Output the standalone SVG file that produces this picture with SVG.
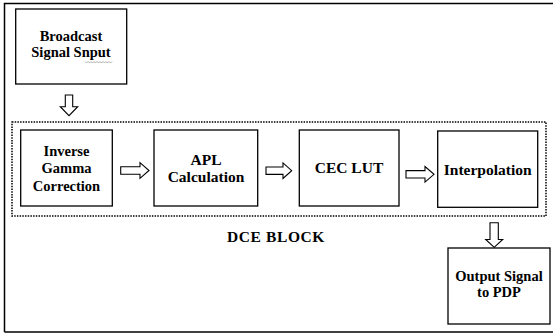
<svg xmlns="http://www.w3.org/2000/svg" width="553" height="334" viewBox="0 0 553 334">
<style>
.box{fill:#fff;stroke:#000;stroke-width:1.3}
.t{font-family:"Liberation Serif","Times New Roman",serif;font-weight:bold;font-size:15.5px;text-anchor:middle;fill:#000}
.s{font-size:14.5px}
.arr{fill:#fff;stroke:#000;stroke-width:1.1;stroke-linejoin:miter}
</style>
<rect x="0" y="0" width="553" height="334" fill="#fff"/>
<path d="M4.5 332 V3.5 H556" fill="none" stroke="#000" stroke-width="1.5"/>
<path d="M4.5 332 H556" fill="none" stroke="#000" stroke-width="1.5"/>
<rect id="dce-block" x="12" y="122" width="534" height="94" fill="none" stroke="#000" stroke-width="1.5" stroke-dasharray="1.5 1.2"/>
<g id="broadcast">
<rect class="box" x="15.7" y="9" width="111" height="75"/>
<text class="t s" x="71" y="41">Broadcast</text>
<text class="t s" x="71" y="57.2">Signal Snput</text>
<path d="M85 61.5 l1.5 1.5 1.5-1.5 1.5 1.5 1.5-1.5 1.5 1.5 1.5-1.5 1.5 1.5 1.5-1.5 1.5 1.5 1.5-1.5 1.5 1.5 1.5-1.5 1.5 1.5 1.5-1.5 1.5 1.5 1.5-1.5 1.5 1.5 1.5-1.5" fill="none" stroke="#999" stroke-width="0.8"/>
</g>
<g id="inverse-gamma">
<rect class="box" x="20.7" y="130" width="91.6" height="76"/>
<text class="t s" x="66.5" y="156">Inverse</text>
<text class="t s" x="66.5" y="173.3">Gamma</text>
<text class="t s" x="66.5" y="190.6">Correction</text>
</g>
<g id="apl">
<rect class="box" x="154" y="130" width="103.7" height="76"/>
<text class="t" x="206" y="164.5">APL</text>
<text class="t" x="206" y="182">Calculation</text>
</g>
<g id="cec-lut">
<rect class="box" x="299.3" y="130" width="99.7" height="76"/>
<text class="t" x="349" y="173.3">CEC LUT</text>
</g>
<g id="interpolation">
<rect class="box" x="437.7" y="131" width="100" height="76.3"/>
<text class="t" x="487.7" y="175">Interpolation</text>
</g>
<g id="output">
<rect class="box" x="448" y="248" width="102" height="76"/>
<text class="t s" x="499" y="281">Output Signal</text>
<text class="t s" x="499" y="297.2">to PDP</text>
</g>
<text id="dce-label" class="t" x="276" y="242.3" style="letter-spacing:0.6px">DCE BLOCK</text>
<g id="connectors">
<path class="arr" d="M65.3 95 H72.7 V106.7 H77.7 L69 115.7 L60.3 106.7 H65.3 Z"/>
<path class="arr" d="M120.7 166.8 H140 V162.7 L149 170.5 L140 178.3 V174.2 H120.7 Z"/>
<path class="arr" d="M266 167 H283 V162.9 L291.7 170.7 L283 178.5 V174.4 H266 Z"/>
<path class="arr" d="M406 170.6 H425 V166.5 L434 174.3 L425 182.1 V178 H406 Z"/>
<path class="arr" d="M490 222.7 H498.3 V239.5 H502.7 L494.2 247.3 L485.7 239.5 H490 Z"/>
</g>
</svg>
